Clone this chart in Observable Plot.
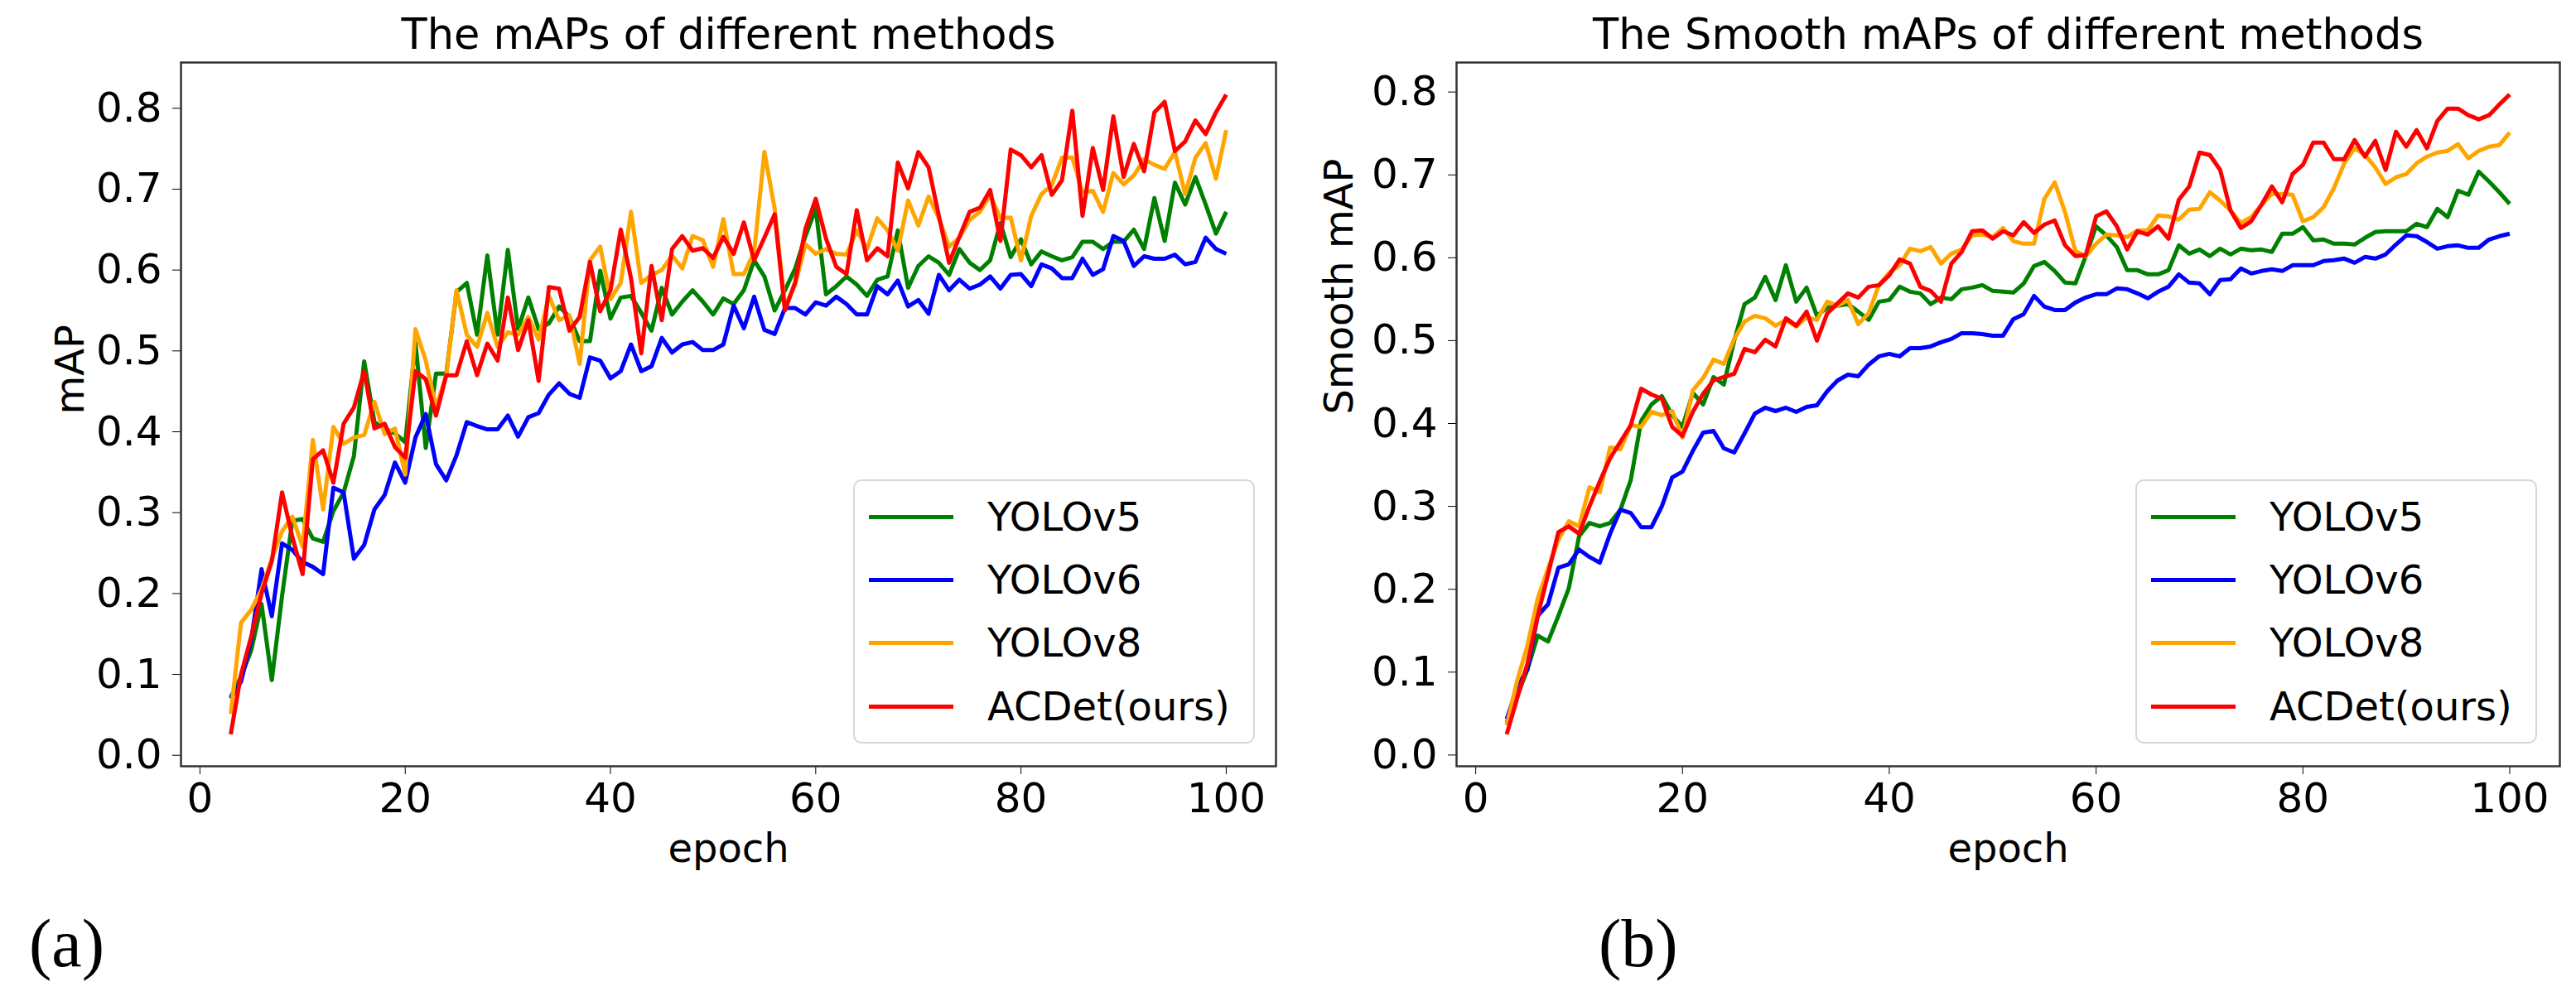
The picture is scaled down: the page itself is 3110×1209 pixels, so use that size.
<!DOCTYPE html>
<html><head><meta charset="utf-8">
<script src="https://cdn.jsdelivr.net/npm/d3@7"></script>
<script src="https://cdn.jsdelivr.net/npm/@observablehq/plot@0.6"></script>
<style>
body{margin:0;background:#fff;}
#root{position:relative;width:3110px;height:1209px;background:#fff;overflow:hidden;font-family:"DejaVu Sans",sans-serif;}
.panel{position:absolute;top:0;}
.legend{position:absolute;box-sizing:border-box;border:2px solid rgba(204,204,204,0.8);border-radius:10px;background:rgba(255,255,255,0.8);}
.legend .sw{position:absolute;height:5px;}
.legend .lb{position:absolute;font-family:"DejaVu Sans",sans-serif;font-size:48px;line-height:48px;white-space:nowrap;color:#000;}
.tag{position:absolute;font-family:"Liberation Serif","DejaVu Serif",serif;font-size:82px;line-height:82px;color:#000;}
</style></head>
<body><div id="root"></div>
<script>
// ---------- data ----------
const EPOCHS = d3.range(3, 101); // epochs 3..100
const SERIES = ["YOLOv5", "YOLOv6", "YOLOv8", "ACDet(ours)"];
const COLORS = ["green", "blue", "orange", "red"];
const X_TICKS = [0, 20, 40, 60, 80, 100];
const Y_TICKS = [0, 0.1, 0.2, 0.3, 0.4, 0.5, 0.6, 0.7, 0.8];

// (a) mAP
const MAP_YOLOV5 = [0.072,0.097,0.13,0.187,0.093,0.197,0.29,0.292,0.268,0.264,
0.302,0.325,0.37,0.487,0.412,0.404,0.398,0.387,0.51,0.38,
0.472,0.472,0.573,0.584,0.52,0.618,0.52,0.625,0.527,0.566,
0.527,0.534,0.555,0.542,0.512,0.512,0.599,0.54,0.566,0.568,
0.547,0.525,0.578,0.545,0.561,0.575,0.561,0.545,0.565,0.558,
0.575,0.612,0.592,0.55,0.575,0.602,0.642,0.676,0.57,0.58,
0.592,0.582,0.568,0.588,0.592,0.649,0.578,0.605,0.617,0.609,
0.594,0.626,0.609,0.6,0.612,0.658,0.616,0.638,0.607,0.623,
0.617,0.612,0.616,0.635,0.635,0.626,0.635,0.635,0.65,0.626,
0.689,0.636,0.708,0.681,0.715,0.681,0.645,0.672];
const MAP_YOLOV6 = [0.07,0.091,0.143,0.23,0.172,0.262,0.254,0.239,0.233,0.224,
0.331,0.325,0.243,0.26,0.304,0.322,0.362,0.337,0.393,0.422,
0.36,0.34,0.371,0.412,0.407,0.403,0.403,0.42,0.394,0.418,
0.423,0.446,0.46,0.447,0.442,0.492,0.488,0.466,0.475,0.508,
0.475,0.481,0.516,0.498,0.508,0.511,0.501,0.501,0.508,0.556,
0.528,0.567,0.526,0.521,0.553,0.553,0.545,0.56,0.556,0.567,
0.558,0.545,0.545,0.58,0.57,0.587,0.555,0.563,0.546,0.594,
0.575,0.588,0.577,0.582,0.592,0.577,0.594,0.595,0.58,0.607,
0.602,0.59,0.59,0.614,0.594,0.601,0.642,0.636,0.605,0.617,
0.614,0.614,0.619,0.607,0.61,0.64,0.626,0.62];
const MAP_YOLOV8 = [0.051,0.164,0.18,0.205,0.243,0.277,0.295,0.258,0.39,0.304,
0.406,0.385,0.393,0.396,0.437,0.397,0.404,0.347,0.527,0.488,
0.43,0.47,0.575,0.52,0.505,0.547,0.505,0.523,0.52,0.542,
0.514,0.568,0.538,0.544,0.484,0.612,0.629,0.564,0.584,0.672,
0.584,0.594,0.6,0.618,0.602,0.642,0.637,0.604,0.663,0.595,
0.595,0.622,0.746,0.676,0.555,0.582,0.632,0.62,0.626,0.62,
0.619,0.649,0.626,0.664,0.649,0.624,0.686,0.655,0.691,0.664,
0.629,0.64,0.662,0.672,0.693,0.664,0.665,0.612,0.667,0.694,
0.705,0.739,0.739,0.696,0.698,0.672,0.72,0.706,0.717,0.737,
0.73,0.725,0.746,0.694,0.739,0.757,0.713,0.773];
const MAP_ACDET = [0.026,0.1,0.147,0.2,0.24,0.325,0.27,0.224,0.366,0.377,
0.337,0.41,0.43,0.475,0.404,0.41,0.381,0.368,0.475,0.465,
0.42,0.47,0.47,0.512,0.47,0.509,0.488,0.566,0.501,0.538,
0.463,0.579,0.577,0.525,0.542,0.61,0.549,0.575,0.65,0.59,
0.497,0.605,0.538,0.626,0.642,0.624,0.627,0.615,0.641,0.62,
0.659,0.612,0.64,0.669,0.55,0.585,0.651,0.688,0.639,0.604,
0.595,0.674,0.612,0.627,0.617,0.733,0.701,0.746,0.727,0.667,
0.609,0.641,0.672,0.677,0.699,0.636,0.749,0.742,0.727,0.742,
0.693,0.711,0.797,0.667,0.751,0.699,0.79,0.715,0.756,0.722,
0.795,0.808,0.747,0.759,0.785,0.768,0.795,0.817];

// (b) Smooth mAP
const SMOOTH_YOLOV5 = [0.039,0.071,0.103,0.144,0.137,0.168,0.201,0.264,0.28,0.276,
0.28,0.296,0.332,0.403,0.423,0.433,0.41,0.396,0.437,0.423,
0.456,0.447,0.5,0.544,0.552,0.577,0.549,0.591,0.547,0.564,
0.53,0.54,0.542,0.544,0.535,0.525,0.547,0.549,0.565,0.559,
0.557,0.544,0.552,0.55,0.562,0.564,0.567,0.56,0.559,0.558,
0.569,0.59,0.595,0.584,0.57,0.569,0.602,0.638,0.627,0.613,
0.585,0.585,0.58,0.58,0.585,0.615,0.605,0.61,0.602,0.611,
0.604,0.611,0.609,0.61,0.607,0.629,0.629,0.637,0.621,0.622,
0.617,0.617,0.616,0.624,0.631,0.632,0.632,0.632,0.641,0.637,
0.659,0.649,0.681,0.676,0.704,0.692,0.679,0.665];
const SMOOTH_YOLOV6 = [0.043,0.082,0.103,0.168,0.182,0.226,0.23,0.248,0.239,0.232,
0.267,0.296,0.292,0.275,0.275,0.3,0.335,0.342,0.367,0.389,
0.391,0.37,0.365,0.388,0.412,0.419,0.415,0.419,0.414,0.42,
0.422,0.439,0.452,0.459,0.457,0.471,0.481,0.484,0.481,0.491,
0.491,0.493,0.498,0.502,0.509,0.509,0.508,0.506,0.506,0.526,
0.532,0.554,0.541,0.537,0.537,0.546,0.552,0.556,0.556,0.563,
0.562,0.557,0.551,0.559,0.565,0.58,0.57,0.569,0.556,0.573,
0.574,0.587,0.581,0.584,0.586,0.584,0.591,0.591,0.591,0.596,
0.597,0.599,0.594,0.601,0.599,0.604,0.616,0.627,0.626,0.619,
0.611,0.614,0.615,0.612,0.612,0.622,0.626,0.629];
const SMOOTH_YOLOV8 = [0.036,0.089,0.132,0.189,0.225,0.26,0.282,0.276,0.323,0.317,
0.371,0.369,0.398,0.396,0.414,0.41,0.415,0.383,0.44,0.455,
0.477,0.472,0.502,0.523,0.53,0.527,0.518,0.525,0.517,0.528,
0.525,0.547,0.542,0.549,0.52,0.533,0.567,0.582,0.591,0.611,
0.608,0.613,0.593,0.605,0.61,0.627,0.628,0.625,0.636,0.62,
0.617,0.617,0.671,0.691,0.655,0.608,0.602,0.617,0.628,0.627,
0.625,0.633,0.633,0.651,0.65,0.646,0.658,0.659,0.679,0.669,
0.657,0.642,0.649,0.664,0.677,0.677,0.676,0.644,0.649,0.661,
0.684,0.714,0.732,0.724,0.709,0.689,0.697,0.701,0.714,0.722,
0.727,0.729,0.737,0.72,0.729,0.734,0.736,0.751];
const SMOOTH_ACDET = [0.025,0.068,0.11,0.168,0.218,0.269,0.276,0.267,0.3,0.33,
0.358,0.378,0.398,0.442,0.435,0.43,0.396,0.385,0.414,0.436,
0.452,0.456,0.46,0.49,0.486,0.501,0.493,0.527,0.518,0.535,
0.5,0.533,0.545,0.557,0.552,0.565,0.567,0.579,0.598,0.593,
0.565,0.56,0.547,0.593,0.607,0.632,0.633,0.623,0.632,0.627,
0.643,0.63,0.64,0.645,0.615,0.602,0.603,0.65,0.656,0.638,
0.61,0.632,0.628,0.638,0.623,0.67,0.686,0.727,0.724,0.706,
0.657,0.636,0.644,0.664,0.686,0.667,0.701,0.712,0.739,0.739,
0.719,0.719,0.742,0.722,0.741,0.706,0.752,0.734,0.754,0.732,
0.765,0.78,0.78,0.772,0.767,0.772,0.785,0.797];

// ---------- drawing ----------
const root = document.getElementById("root");

function rowsOf(seriesValues) {
  return SERIES.flatMap((s, i) => seriesValues[i].map((v, j) => ({epoch: EPOCHS[j], value: v, series: s})));
}

function panel({values, title, ylabel, left, width, marginLeft, yDomain, ylabelDx, legendLeft, tag, tagLeft}) {
  const svg = Plot.plot({
    width, height: 1070,
    marginTop: 75, marginBottom: 145, marginLeft, marginRight: 20,
    style: {fontFamily: "DejaVu Sans, sans-serif", fontSize: "50px", color: "#000", background: "transparent", overflow: "visible"},
    x: {domain: [-1.85, 104.85], ticks: X_TICKS, tickSize: 10, tickPadding: 10, label: null, tickFormat: d => String(d)},
    y: {domain: yDomain, ticks: Y_TICKS, tickFormat: d3.format(".1f"), tickSize: 10, tickPadding: 13, label: null},
    color: {domain: SERIES, range: COLORS},
    marks: [
      Plot.line(rowsOf(values), {x: "epoch", y: "value", z: "series", stroke: "series", strokeWidth: 5, strokeLinejoin: "round", strokeLinecap: "butt"}),
      Plot.frame({stroke: "#333", strokeWidth: 2.5}),
      Plot.text([title], {text: d => d, frameAnchor: "top", dy: -53, lineAnchor: "top", fontSize: 51, fill: "#000"}),
      Plot.text(["epoch"], {text: d => d, frameAnchor: "bottom", dy: 81, lineAnchor: "top", fontSize: 48, fill: "#000"}),
      Plot.text([ylabel], {text: d => d, frameAnchor: "left", dx: ylabelDx, rotate: -90, fontSize: 48, fill: "#000"})
    ]
  });
  svg.classList.add("panel");
  svg.style.left = left + "px";
  root.appendChild(svg);

  const lg = document.createElement("div");
  lg.className = "legend";
  Object.assign(lg.style, {left: legendLeft + "px", top: "579px", width: "485px", height: "319px"});
  const centers = [43, 119, 195, 272];
  SERIES.forEach((s, i) => {
    const sw = document.createElement("div");
    sw.className = "sw";
    Object.assign(sw.style, {left: "17px", width: "102px", top: (centers[i] - 2.5) + "px", background: COLORS[i]});
    const lb = document.createElement("div");
    lb.className = "lb";
    lb.textContent = s;
    Object.assign(lb.style, {left: "160px", top: (centers[i] - 24) + "px"});
    lg.appendChild(sw); lg.appendChild(lb);
  });
  root.appendChild(lg);

  const t = document.createElement("div");
  t.className = "tag";
  t.textContent = tag;
  Object.assign(t.style, {left: tagLeft + "px", top: "1099px"});
  root.appendChild(t);
}

panel({
  values: [MAP_YOLOV5, MAP_YOLOV6, MAP_YOLOV8, MAP_ACDET],
  title: "The mAPs of different methods", ylabel: "mAP",
  left: 0, width: 1560, marginLeft: 218, yDomain: [-0.0136, 0.8566], ylabelDx: -133,
  legendLeft: 1030, tag: "(a)", tagLeft: 35
});
panel({
  values: [SMOOTH_YOLOV5, SMOOTH_YOLOV6, SMOOTH_YOLOV8, SMOOTH_ACDET],
  title: "The Smooth mAPs of different methods", ylabel: "Smooth mAP",
  left: 1555, width: 1555, marginLeft: 203, yDomain: [-0.0136, 0.8356], ylabelDx: -141,
  legendLeft: 2578, tag: "(b)", tagLeft: 1930
});
</script>
</body></html>
